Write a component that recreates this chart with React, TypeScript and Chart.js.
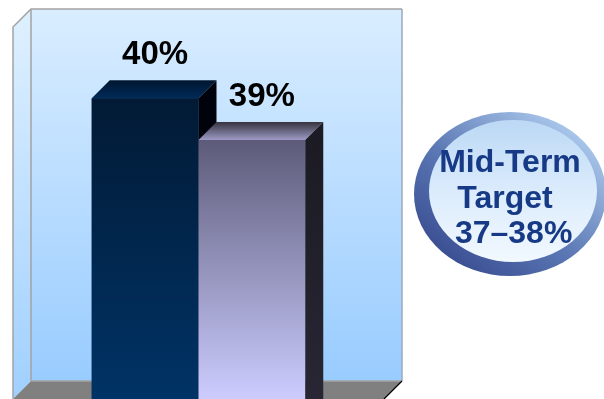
import React, { useEffect, useRef } from "react";
import { Chart, registerables } from "chart.js";

Chart.register(...registerables);

const categories = ["Result"];
const seriesNames = ["Actual", "Plan"];
const seriesActual = [40];
const seriesPlan = [39];
const axisMin = 32.79;
const axisMax = 41.71;
const targetLines = ["Mid-Term", "Target", " 37–38%"];

const DX = 18;
const DY = -18;

const faceStyles = [
  {
    front: ["#021a35", "#003366"],
    top: ["#001630", "#002a58"],
    side: ["#00030c", "#000a18"],
  },
  {
    front: ["#5d5b79", "#ccccff"],
    top: ["#35333f", "#9d9bc6"],
    side: ["#1c1a22", "#6a6892"],
  },
];

const fin = (v: any, d: number) => (typeof v === "number" && Number.isFinite(v) ? v : d);

const threeD = {
  id: "threeD",
  beforeDatasetsDraw(chart: any) {
    const { ctx, chartArea } = chart;
    const { left: L, right: R, top: T, bottom: B } = chartArea;
    ctx.save();
    const g = ctx.createLinearGradient(0, T + DY, 0, B + DY);
    g.addColorStop(0, "#d9edff");
    g.addColorStop(1, "#99ccff");
    ctx.fillStyle = g;
    ctx.fillRect(L + DX, T + DY, R - L, B - T);
    const gs = ctx.createLinearGradient(0, T, 0, B);
    gs.addColorStop(0, "#dcefff");
    gs.addColorStop(1, "#a0d0ff");
    ctx.fillStyle = gs;
    ctx.beginPath();
    ctx.moveTo(L, T);
    ctx.lineTo(L + DX, T + DY);
    ctx.lineTo(L + DX, B + DY);
    ctx.lineTo(L, B);
    ctx.closePath();
    ctx.fill();
    ctx.fillStyle = "#808080";
    ctx.beginPath();
    ctx.moveTo(L, B);
    ctx.lineTo(L + DX, B + DY);
    ctx.lineTo(R + DX, B + DY);
    ctx.lineTo(R, B);
    ctx.closePath();
    ctx.fill();
    ctx.lineWidth = 1.5;
    ctx.strokeStyle = "#a3a3a3";
    ctx.beginPath();
    ctx.moveTo(L, B);
    ctx.lineTo(L, T);
    ctx.lineTo(L + DX, T + DY);
    ctx.lineTo(R + DX, T + DY);
    ctx.stroke();
    ctx.beginPath();
    ctx.moveTo(L + DX, T + DY);
    ctx.lineTo(L + DX, B + DY);
    ctx.lineTo(R + DX, B + DY);
    ctx.stroke();
    ctx.strokeStyle = "#9aaabb";
    ctx.beginPath();
    ctx.moveTo(R + DX, T + DY);
    ctx.lineTo(R + DX, B + DY);
    ctx.stroke();
    ctx.strokeStyle = "#000000";
    ctx.lineWidth = 1.2;
    ctx.beginPath();
    ctx.moveTo(R + DX, B + DY);
    ctx.lineTo(R, B);
    ctx.stroke();
    ctx.restore();
  },
  afterDatasetsDraw(chart: any) {
    const { ctx } = chart;
    chart.data.datasets.forEach((ds: any, di: number) => {
      const meta = chart.getDatasetMeta(di);
      const st = faceStyles[di];
      meta.data.forEach((bar: any, i: number) => {
        // redraw front face so stacking order goes left to right
        bar.draw(ctx, chart.chartArea);
        const { x, y, width, base } = bar.getProps(["x", "y", "width", "base"], true);
        const l = x - width / 2;
        const r = x + width / 2;
        ctx.save();
        const gt = ctx.createLinearGradient(0, y + DY, 0, y);
        gt.addColorStop(0, st.top[0]);
        gt.addColorStop(1, st.top[1]);
        ctx.fillStyle = gt;
        ctx.beginPath();
        ctx.moveTo(l, y);
        ctx.lineTo(l + DX, y + DY);
        ctx.lineTo(r + DX, y + DY);
        ctx.lineTo(r, y);
        ctx.closePath();
        ctx.fill();
        const gsd = ctx.createLinearGradient(0, y, 0, base);
        gsd.addColorStop(0, st.side[0]);
        gsd.addColorStop(1, st.side[1]);
        ctx.fillStyle = gsd;
        ctx.beginPath();
        ctx.moveTo(r, y);
        ctx.lineTo(r + DX, y + DY);
        ctx.lineTo(r + DX, base + DY);
        ctx.lineTo(r, base);
        ctx.closePath();
        ctx.fill();
        ctx.fillStyle = "#000000";
        ctx.font = "bold 33px Arial, 'Liberation Sans', sans-serif";
        ctx.textAlign = "center";
        ctx.textBaseline = "alphabetic";
        ctx.fillText(ds.data[i] + "%", x + DX / 2 + 1, y + DY - 16);
        ctx.restore();
      });
    });
  },
  afterDraw(chart: any) {
    const { ctx } = chart;
    const cx = 510;
    const cy = 194;
    const rx = 96;
    const ry = 82;
    ctx.save();
    const gr = ctx.createLinearGradient(cx - 70, cy + 80, cx + 60, cy - 85);
    gr.addColorStop(0, "#34478c");
    gr.addColorStop(0.45, "#5b77b4");
    gr.addColorStop(1, "#b4d2f2");
    ctx.fillStyle = gr;
    ctx.beginPath();
    ctx.ellipse(cx, cy, rx, ry, 0, 0, Math.PI * 2);
    ctx.fill();
    const gi = ctx.createLinearGradient(0, cy - ry, 0, cy + ry);
    gi.addColorStop(0, "#b8d6f4");
    gi.addColorStop(0.5, "#dcecfc");
    gi.addColorStop(1, "#f6fbff");
    ctx.fillStyle = gi;
    ctx.beginPath();
    ctx.ellipse(cx + 3, cy - 3, rx - 12, ry - 11, 0, 0, Math.PI * 2);
    ctx.fill();
    ctx.fillStyle = "#173a86";
    ctx.font = "bold 32px Arial, 'Liberation Sans', sans-serif";
    ctx.textAlign = "center";
    ctx.textBaseline = "alphabetic";
    ctx.fillText(targetLines[0], 510, 172);
    ctx.fillText(targetLines[1], 505, 208);
    ctx.textAlign = "left";
    ctx.fillText(targetLines[2], 446, 243);
    ctx.restore();
  },
};

export default function App() {
  const ref = useRef<HTMLCanvasElement | null>(null);
  useEffect(() => {
    if (!ref.current) return;
    const makeFront = (idx: number) => (c: any) => {
      const chart = c.chart;
      const area = chart.chartArea;
      const ys = chart.scales && chart.scales.y;
      if (!area || !ys) return faceStyles[idx].front[1];
      const top = fin(ys.getPixelForValue(c.raw), area.top);
      const bottom = fin(area.bottom, top + 1);
      if (!(bottom > top)) return faceStyles[idx].front[1];
      const g = chart.ctx.createLinearGradient(0, top, 0, bottom);
      g.addColorStop(0, faceStyles[idx].front[0]);
      g.addColorStop(1, faceStyles[idx].front[1]);
      return g;
    };
    const chart = new Chart(ref.current, {
      type: "bar",
      data: {
        labels: categories,
        datasets: [
          {
            label: seriesNames[0],
            data: seriesActual,
            backgroundColor: makeFront(0),
            borderWidth: 0,
            barPercentage: 1,
            categoryPercentage: 0.5755,
          },
          {
            label: seriesNames[1],
            data: seriesPlan,
            backgroundColor: makeFront(1),
            borderWidth: 0,
            barPercentage: 1,
            categoryPercentage: 0.5755,
          },
        ],
      },
      options: {
        responsive: false,
        animation: false,
        devicePixelRatio: 1,
        layout: { padding: { left: 13, right: 220, top: 27, bottom: 0 } },
        scales: {
          x: { display: false },
          y: { display: false, min: axisMin, max: axisMax },
        },
        plugins: { legend: { display: false }, tooltip: { enabled: false } },
      },
      plugins: [threeD],
    } as any);
    return () => chart.destroy();
  }, []);
  return (
    <div style={{ position: "fixed", left: 0, top: 0, width: 604, height: 399, background: "#ffffff" }}>
      <canvas ref={ref} width={604} height={399} style={{ display: "block" }} />
    </div>
  );
}
